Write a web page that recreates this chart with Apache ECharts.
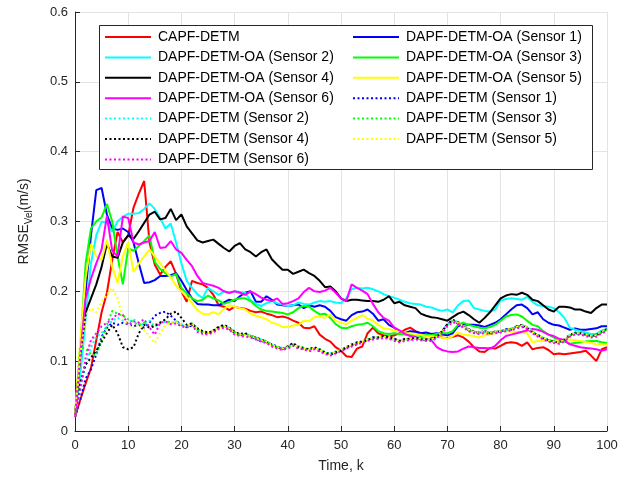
<!DOCTYPE html>
<html>
<head>
<meta charset="utf-8">
<script src="https://cdn.jsdelivr.net/npm/echarts@6/dist/echarts.min.js"></script>
<style>html,body{margin:0;padding:0;background:#fff}#c{width:639px;height:483px}</style>
</head>
<body>
<div id="c"></div>
<script>
// ---- Data (RMSE of velocity, m/s, for k = 0..100) ----
const xTicks = [0,10,20,30,40,50,60,70,80,90,100];
const yTicks = [0,0.1,0.2,0.3,0.4,0.5,0.6];

const names = [
  'CAPF-DETM',
  'DAPF-DETM-OA (Sensor 1)','DAPF-DETM-OA (Sensor 2)','DAPF-DETM-OA (Sensor 3)',
  'DAPF-DETM-OA (Sensor 4)','DAPF-DETM-OA (Sensor 5)','DAPF-DETM-OA (Sensor 6)',
  'DAPF-DETM (Sensor 1)','DAPF-DETM (Sensor 2)','DAPF-DETM (Sensor 3)',
  'DAPF-DETM (Sensor 4)','DAPF-DETM (Sensor 5)','DAPF-DETM (Sensor 6)'
];

const capf = [0.02,0.045,0.068,0.09,0.13,0.17,0.198,0.245,0.285,0.27,0.28,0.32,0.34,0.358,0.27,0.238,0.224,0.235,0.243,0.225,
0.2,0.185,0.215,0.212,0.21,0.205,0.195,0.18,0.178,0.173,0.178,0.176,0.175,0.172,0.17,0.171,0.168,0.166,0.163,0.164,
0.162,0.158,0.155,0.148,0.147,0.15,0.138,0.132,0.128,0.12,0.115,0.107,0.106,0.118,0.121,0.14,0.148,0.14,0.137,0.135,
0.137,0.14,0.145,0.148,0.143,0.14,0.138,0.135,0.137,0.134,0.133,0.135,0.137,0.134,0.128,0.12,0.114,0.113,0.119,0.118,
0.122,0.126,0.127,0.126,0.122,0.127,0.117,0.119,0.12,0.116,0.11,0.111,0.11,0.111,0.112,0.113,0.115,0.108,0.1,0.117,0.12];

const oa1 = [0.02,0.1,0.2,0.28,0.345,0.348,0.31,0.29,0.288,0.29,0.285,0.27,0.24,0.212,0.213,0.216,0.222,0.222,0.223,0.226,
0.215,0.202,0.19,0.182,0.181,0.181,0.18,0.18,0.184,0.188,0.186,0.193,0.198,0.2,0.185,0.185,0.193,0.188,0.181,0.18,
0.179,0.18,0.181,0.176,0.18,0.178,0.18,0.178,0.172,0.163,0.16,0.158,0.166,0.17,0.171,0.174,0.168,0.158,0.16,0.152,
0.148,0.143,0.14,0.143,0.142,0.14,0.141,0.139,0.14,0.138,0.137,0.14,0.15,0.153,0.152,0.152,0.151,0.149,0.152,0.155,
0.16,0.167,0.174,0.18,0.181,0.176,0.167,0.17,0.16,0.155,0.152,0.151,0.148,0.145,0.147,0.145,0.145,0.146,0.147,0.15,0.15];

const oa2 = [0.02,0.08,0.16,0.24,0.28,0.3,0.298,0.285,0.3,0.307,0.311,0.311,0.312,0.318,0.326,0.318,0.305,0.29,0.297,0.27,
0.24,0.215,0.205,0.196,0.19,0.205,0.2,0.195,0.2,0.197,0.2,0.199,0.198,0.187,0.182,0.179,0.183,0.186,0.183,0.181,
0.179,0.18,0.184,0.182,0.181,0.184,0.186,0.185,0.186,0.184,0.183,0.19,0.203,0.205,0.204,0.205,0.203,0.2,0.196,0.193,
0.191,0.188,0.185,0.183,0.182,0.181,0.178,0.177,0.174,0.172,0.174,0.17,0.18,0.186,0.187,0.176,0.174,0.172,0.171,0.174,
0.187,0.189,0.19,0.189,0.188,0.192,0.185,0.18,0.179,0.178,0.176,0.17,0.162,0.148,0.145,0.143,0.141,0.139,0.139,0.144,0.146];

const oa3 = [0.02,0.12,0.24,0.29,0.3,0.306,0.325,0.3,0.25,0.21,0.262,0.258,0.265,0.272,0.28,0.242,0.232,0.226,0.221,0.225,
0.205,0.197,0.19,0.186,0.188,0.194,0.19,0.187,0.182,0.185,0.188,0.19,0.19,0.186,0.179,0.174,0.172,0.171,0.17,0.169,
0.167,0.17,0.176,0.179,0.178,0.172,0.167,0.168,0.162,0.153,0.148,0.147,0.15,0.152,0.153,0.155,0.15,0.143,0.14,0.139,
0.14,0.139,0.138,0.138,0.137,0.136,0.138,0.137,0.139,0.14,0.14,0.143,0.152,0.155,0.152,0.15,0.148,0.147,0.149,0.152,
0.158,0.164,0.166,0.167,0.164,0.158,0.152,0.15,0.143,0.138,0.134,0.128,0.128,0.125,0.126,0.127,0.128,0.129,0.129,0.127,0.126];

const oa4 = [0.02,0.11,0.17,0.19,0.21,0.235,0.268,0.25,0.248,0.27,0.28,0.275,0.286,0.298,0.31,0.314,0.303,0.305,0.318,0.302,
0.31,0.293,0.283,0.273,0.27,0.272,0.274,0.268,0.262,0.257,0.265,0.269,0.26,0.256,0.25,0.256,0.26,0.246,0.238,0.231,
0.231,0.225,0.228,0.231,0.226,0.222,0.215,0.206,0.207,0.2,0.19,0.186,0.188,0.188,0.187,0.186,0.186,0.185,0.188,0.193,
0.183,0.185,0.18,0.178,0.176,0.168,0.165,0.163,0.162,0.16,0.158,0.163,0.168,0.171,0.166,0.16,0.155,0.162,0.17,0.18,
0.19,0.194,0.196,0.195,0.198,0.195,0.188,0.186,0.18,0.174,0.171,0.178,0.178,0.177,0.174,0.174,0.171,0.169,0.176,0.181,0.181];

const oa5 = [0.02,0.13,0.22,0.268,0.25,0.245,0.274,0.235,0.212,0.25,0.27,0.228,0.24,0.25,0.26,0.25,0.24,0.23,0.22,0.208,
0.2,0.192,0.183,0.173,0.168,0.167,0.17,0.167,0.175,0.18,0.178,0.176,0.174,0.168,0.165,0.163,0.16,0.155,0.153,0.149,
0.149,0.151,0.152,0.158,0.157,0.163,0.164,0.162,0.167,0.158,0.155,0.153,0.158,0.162,0.166,0.161,0.158,0.152,0.147,0.146,
0.144,0.143,0.14,0.14,0.138,0.138,0.136,0.136,0.135,0.134,0.132,0.136,0.141,0.138,0.137,0.136,0.134,0.137,0.138,0.14,
0.143,0.143,0.142,0.142,0.141,0.14,0.127,0.129,0.129,0.13,0.13,0.129,0.13,0.131,0.13,0.129,0.127,0.126,0.124,0.124,0.124];

const oa6 = [0.02,0.11,0.19,0.218,0.24,0.26,0.308,0.258,0.25,0.307,0.305,0.27,0.267,0.27,0.272,0.285,0.262,0.263,0.272,0.26,
0.255,0.245,0.236,0.222,0.212,0.21,0.208,0.205,0.2,0.198,0.2,0.198,0.195,0.2,0.196,0.191,0.188,0.186,0.19,0.182,
0.183,0.186,0.19,0.199,0.205,0.2,0.199,0.201,0.205,0.198,0.19,0.186,0.21,0.205,0.201,0.196,0.182,0.17,0.162,0.158,
0.148,0.144,0.139,0.136,0.134,0.133,0.132,0.13,0.12,0.116,0.114,0.113,0.114,0.118,0.121,0.12,0.119,0.119,0.118,0.122,
0.13,0.136,0.138,0.14,0.142,0.144,0.146,0.145,0.142,0.138,0.136,0.132,0.13,0.124,0.122,0.12,0.119,0.118,0.117,0.115,0.117];

const dt1 = [0.02,0.045,0.075,0.088,0.11,0.135,0.148,0.155,0.152,0.155,0.153,0.15,0.152,0.148,0.155,
0.165,0.169,0.171,0.165,0.158,0.152,0.149,0.151,0.146,0.141,0.139,0.144,0.149,0.151,0.146,0.14,
0.137,0.139,0.135,0.132,0.129,0.127,0.124,0.121,0.117,0.121,0.125,0.121,0.118,0.117,0.12,0.115,0.113,0.109,0.112,0.115,
0.119,0.124,0.125,0.129,0.13,0.134,0.133,0.136,0.133,0.132,0.128,0.132,0.131,0.134,0.131,0.13,0.132,0.136,0.143,0.153,
0.157,0.154,0.151,0.144,0.143,0.14,0.143,0.14,0.143,0.142,0.146,0.145,0.15,0.15,0.147,
0.141,0.138,0.132,0.131,0.127,0.128,0.131,0.136,0.141,0.139,0.139,0.135,0.138,0.141,0.146];

const dt2 = [0.02,0.06,0.095,0.12,0.135,0.14,0.15,0.158,0.162,0.158,0.155,0.16,0.155,0.152,0.158,
0.15,0.154,0.156,0.156,0.155,0.153,0.151,0.152,0.144,0.143,0.141,0.142,0.147,0.149,0.148,0.142,
0.139,0.137,0.137,0.134,0.131,0.129,0.122,0.12,0.119,0.119,0.123,0.121,0.12,0.115,0.118,0.117,0.111,0.111,0.114,0.116,
0.121,0.122,0.127,0.127,0.132,0.132,0.135,0.134,0.135,0.13,0.13,0.13,0.133,0.132,0.133,0.131,0.13,0.134,0.141,0.151,
0.159,0.156,0.149,0.146,0.141,0.142,0.141,0.142,0.141,0.144,0.144,0.147,0.148,0.152,0.149,
0.143,0.136,0.134,0.129,0.129,0.126,0.129,0.138,0.139,0.141,0.137,0.137,0.136,0.143,0.144];

const dt3 = [0.02,0.12,0.118,0.11,0.108,0.13,0.152,0.172,0.168,0.165,0.16,0.156,0.152,0.155,0.15,
0.152,0.156,0.159,0.154,0.157,0.151,0.15,0.154,0.146,0.142,0.14,0.144,0.148,0.15,0.147,0.141,
0.138,0.138,0.137,0.133,0.13,0.128,0.123,0.12,0.118,0.12,0.124,0.12,0.119,0.116,0.119,0.116,0.112,0.11,0.113,0.116,
0.12,0.123,0.126,0.128,0.131,0.133,0.134,0.135,0.134,0.131,0.129,0.131,0.132,0.133,0.132,0.131,0.131,0.135,0.142,0.152,
0.158,0.155,0.15,0.145,0.142,0.141,0.142,0.141,0.142,0.143,0.145,0.146,0.149,0.151,0.148,
0.142,0.137,0.133,0.13,0.128,0.127,0.13,0.137,0.14,0.14,0.138,0.136,0.137,0.142,0.145];

const dt4 = [0.02,0.07,0.095,0.105,0.115,0.128,0.14,0.152,0.14,0.12,0.117,0.12,0.14,0.152,0.148,
0.15,0.155,0.16,0.168,0.171,0.162,0.152,0.154,0.147,0.143,0.141,0.143,0.149,0.152,0.148,0.142,
0.139,0.14,0.136,0.134,0.131,0.128,0.124,0.12,0.118,0.121,0.126,0.12,0.119,0.117,0.12,0.117,0.112,0.11,0.113,0.115,
0.12,0.123,0.127,0.128,0.13,0.134,0.134,0.136,0.134,0.132,0.129,0.132,0.132,0.134,0.131,0.131,0.131,0.135,0.143,0.153,
0.159,0.156,0.15,0.146,0.142,0.141,0.143,0.141,0.142,0.143,0.145,0.146,0.15,0.152,0.148,
0.142,0.137,0.133,0.13,0.128,0.127,0.13,0.138,0.14,0.14,0.138,0.136,0.137,0.142,0.146];

const dt5 = [0.02,0.11,0.165,0.176,0.17,0.185,0.195,0.205,0.19,0.16,0.152,0.148,0.152,0.145,0.135,
0.126,0.14,0.152,0.155,0.156,0.152,0.15,0.153,0.145,0.142,0.14,0.143,0.147,0.15,0.147,0.14,
0.138,0.137,0.136,0.133,0.13,0.128,0.123,0.12,0.118,0.12,0.123,0.12,0.119,0.116,0.119,0.116,0.112,0.11,0.113,0.116,
0.12,0.123,0.126,0.128,0.131,0.133,0.134,0.135,0.134,0.131,0.129,0.131,0.132,0.133,0.132,0.131,0.131,0.135,0.142,0.151,
0.157,0.155,0.15,0.145,0.142,0.141,0.142,0.141,0.142,0.143,0.145,0.146,0.149,0.151,0.148,
0.142,0.137,0.133,0.13,0.128,0.127,0.13,0.137,0.14,0.14,0.138,0.136,0.137,0.142,0.145];

const dt6 = [0.02,0.06,0.105,0.13,0.14,0.15,0.155,0.16,0.168,0.166,0.152,0.157,0.155,0.16,0.148,
0.138,0.155,0.157,0.153,0.154,0.15,0.148,0.151,0.142,0.139,0.138,0.141,0.146,0.148,0.145,0.138,
0.136,0.135,0.134,0.131,0.128,0.126,0.121,0.118,0.116,0.118,0.122,0.118,0.117,0.114,0.117,0.114,0.11,0.108,0.111,0.114,
0.118,0.121,0.124,0.126,0.129,0.131,0.132,0.133,0.132,0.129,0.127,0.129,0.13,0.131,0.13,0.129,0.129,0.133,0.14,0.15,
0.156,0.153,0.148,0.143,0.14,0.139,0.14,0.139,0.14,0.141,0.143,0.144,0.147,0.149,0.146,
0.14,0.135,0.131,0.128,0.126,0.125,0.128,0.135,0.138,0.138,0.136,0.134,0.135,0.14,0.143];

const values = [capf, oa1, oa2, oa3, oa4, oa5, oa6, dt1, dt2, dt3, dt4, dt5, dt6];
const colors = ['#ff0000','#0000ff','#00ffff','#00ff00','#000000','#ffff00','#ff00ff',
                '#0000ff','#00ffff','#00ff00','#000000','#ffff00','#ff00ff'];

const FONT = '"Liberation Sans", Arial, Helvetica, sans-serif';
const AX = '#262626';

const series = values.map((vals, i) => ({
  name: names[i],
  type: 'line',
  data: vals.map((v, k) => [k, v]),
  symbol: 'none',
  showSymbol: false,
  animation: false,
  lineStyle: {
    color: colors[i],
    width: 2,
    type: i >= 7 ? [2, 2.5] : 'solid'
  },
  itemStyle: { color: colors[i] }
}));

const leftCol = [names[0], names[2], names[4], names[6], names[8], names[10], names[12]];
const rightCol = [names[1], names[3], names[5], names[7], names[9], names[11]];

const legendBase = {
  orient: 'vertical',
  top: 30,
  itemWidth: 46,
  itemHeight: 14,
  itemGap: 6.4,
  padding: 0,
  selectedMode: false,
  z: 10,
  itemStyle: { opacity: 0, borderWidth: 0 },
  textStyle: { fontFamily: FONT, fontSize: 14, color: '#000', padding: [0,0,0,2] }
};

const chart = echarts.init(document.getElementById('c'), null, { renderer: 'canvas' });
chart.setOption({
  animation: false,
  backgroundColor: '#fff',
  grid: { left: 75, right: 32, top: 12, bottom: 52, containLabel: false },
  xAxis: {
    type: 'value', min: xTicks[0], max: xTicks[xTicks.length - 1], interval: 10,
    name: 'Time, k', nameLocation: 'middle', nameGap: 28,
    nameTextStyle: { fontFamily: FONT, fontSize: 14, color: AX },
    axisLine: { show: true, onZero: false, lineStyle: { color: AX, width: 1 } },
    axisTick: { show: true, inside: true, length: 5, lineStyle: { color: AX } },
    axisLabel: { fontFamily: FONT, fontSize: 13, color: AX, margin: 8 },
    splitLine: { show: true, lineStyle: { color: '#e3e3e3', width: 1 } }
  },
  yAxis: {
    type: 'value', min: yTicks[0], max: yTicks[yTicks.length - 1], interval: 0.1,
    name: '{a|RMSE}{b|Vel}{a|(m/s)}', nameLocation: 'middle', nameGap: 41, nameRotate: 90,
    nameTextStyle: {
      fontFamily: FONT, color: AX,
      rich: {
        a: { fontFamily: FONT, fontSize: 14, color: AX },
        b: { fontFamily: FONT, fontSize: 10, color: AX, padding: [9, 0, 0, 0] }
      }
    },
    axisLine: { show: true, onZero: false, lineStyle: { color: AX, width: 1 } },
    axisTick: { show: true, inside: true, length: 5, lineStyle: { color: AX } },
    axisLabel: { fontFamily: FONT, fontSize: 13, color: AX, margin: 7,
      formatter: v => (v === 0 ? '0' : v.toFixed(1)) },
    splitLine: { show: true, lineStyle: { color: '#e3e3e3', width: 1 } }
  },
  legend: [
    Object.assign({}, legendBase, { left: 104, data: leftCol }),
    Object.assign({}, legendBase, { left: 352, data: rightCol })
  ],
  graphic: [{
    type: 'rect', z: 5,
    shape: { x: 99.5, y: 25.5, width: 493, height: 144 },
    style: { fill: '#fff', stroke: AX, lineWidth: 1 }
  }],
  series: series
});
</script>
</body>
</html>
